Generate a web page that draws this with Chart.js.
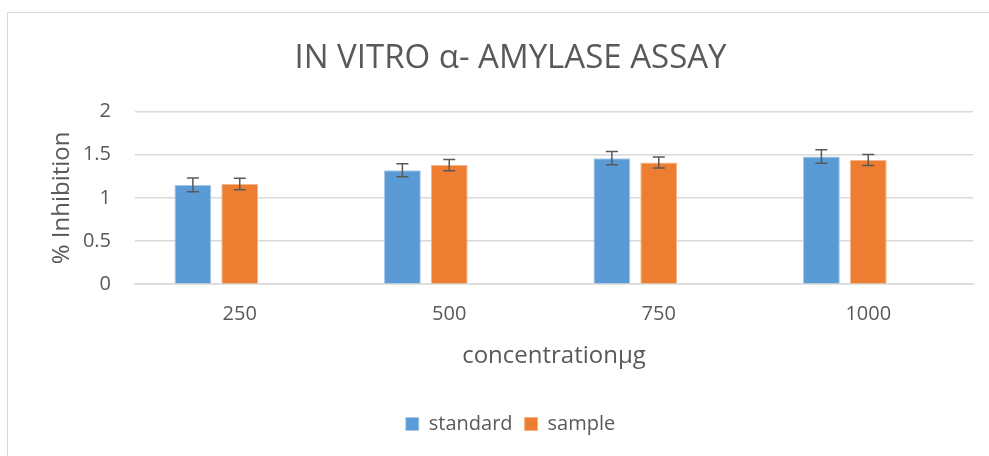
<!DOCTYPE html>
<html>
<head>
<meta charset="utf-8">
<script src="https://cdn.jsdelivr.net/npm/chart.js@4.4.1/dist/chart.umd.min.js"></script>
<style>
  html, body { margin: 0; padding: 0; background: #fff; }
  #wrap { position: relative; width: 989px; height: 456px; }
  #frame { position: absolute; left: 7px; top: 12px; right: 0; bottom: -2px;
           border-left: 1.5px solid #d9d9d9; border-top: 1.5px solid #d9d9d9; }
  canvas { position: absolute; left: 0; top: 0; }
</style>
</head>
<body>
<div id="wrap">
  <div id="frame"></div>
  <canvas id="AmylaseChart" width="989" height="456"></canvas>
</div>
<script>
const categories = ["250", "500", "750", "1000"];
const standardValues = [1.15, 1.32, 1.46, 1.48];
const sampleValues = [1.16, 1.38, 1.41, 1.44];
const standardErrors = [0.08, 0.076, 0.077, 0.078];
const sampleErrors = [0.067, 0.066, 0.064, 0.064];

const FONT = '"Open Sans", sans-serif';
const GREY = "#595959";

// draws the error bars on top of each bar
const errorBars = {
    id: "errorBars",
    afterDatasetsDraw(chart) {
        const ctx = chart.ctx;
        const y = chart.scales.y;
        ctx.save();
        ctx.strokeStyle = GREY;
        ctx.lineWidth = 1.5;
        chart.data.datasets.forEach((ds, i) => {
            if (!ds.errors) return;
            const meta = chart.getDatasetMeta(i);
            meta.data.forEach((bar, j) => {
                const v = ds.data[j];
                const e = ds.errors[j];
                const top = y.getPixelForValue(v + e);
                const bottom = y.getPixelForValue(v - e);
                ctx.beginPath();
                ctx.moveTo(bar.x, top);
                ctx.lineTo(bar.x, bottom);
                ctx.moveTo(bar.x - 6, top);
                ctx.lineTo(bar.x + 6, top);
                ctx.moveTo(bar.x - 6, bottom);
                ctx.lineTo(bar.x + 6, bottom);
                ctx.stroke();
            });
        });
        ctx.restore();
    },
};

function AmylaseChart() {
    const ctx = document.getElementById("AmylaseChart");

    new Chart(ctx, {
        type: "bar",
        data: {
            labels: categories,
            datasets: [
                {
                    label: "standard",
                    data: standardValues,
                    errors: standardErrors,
                    backgroundColor: "#5B9BD5",
                    borderColor: "#a8c9ea",
                    borderWidth: 1,
                },
                {
                    label: "sample",
                    data: sampleValues,
                    errors: sampleErrors,
                    backgroundColor: "#ED7D31",
                    borderColor: "#f5b48a",
                    borderWidth: 1,
                },
                {
                    // empty third series in the original sheet, keeps its slot
                    label: "",
                    data: [],
                    backgroundColor: "rgba(0,0,0,0)",
                },
            ],
        },
        options: {
            responsive: false,
            animation: false,
            datasets: {
                bar: {
                    categoryPercentage: 0.671,
                    barPercentage: 0.787,
                },
            },
            layout: {
                padding: { left: 48, right: 16, top: 12, bottom: 12 },
            },
            scales: {
                x: {
                    grid: { display: false },
                    border: { color: "#d9d9d9", width: 1.5 },
                    ticks: { color: GREY, font: { family: FONT, size: 20 }, padding: 10 },
                    title: {
                        display: true,
                        text: "concentrationµg",
                        color: GREY,
                        font: { family: FONT, size: 24 },
                        padding: { top: 6, bottom: 31 },
                    },
                },
                y: {
                    min: 0,
                    max: 2,
                    ticks: {
                        stepSize: 0.5,
                        color: GREY,
                        font: { family: FONT, size: 20 },
                        padding: 24,
                        callback: (v) => String(v),
                    },
                    grid: { color: "#d9d9d9", lineWidth: 1.5, drawTicks: false },
                    border: { display: false },
                    title: {
                        display: true,
                        text: "% Inhibition",
                        color: GREY,
                        font: { family: FONT, size: 24 },
                        padding: { top: 0, bottom: 4 },
                    },
                    afterFit(scale) {
                        scale.width = 87;
                    },
                },
            },
            plugins: {
                title: {
                    display: true,
                    text: "IN VITRO α- AMYLASE ASSAY",
                    color: GREY,
                    font: { family: FONT, size: 33, weight: "normal" },
                    padding: { top: 27, bottom: 33 },
                },
                legend: {
                    position: "bottom",
                    labels: {
                        color: GREY,
                        font: { family: FONT, size: 20 },
                        boxWidth: 13,
                        boxHeight: 13,
                        padding: 12,
                        filter: (item) => item.text !== "",
                    },
                },
                tooltip: { enabled: false },
            },
        },
        plugins: [errorBars],
    });
}

AmylaseChart()
</script>
</body>
</html>
